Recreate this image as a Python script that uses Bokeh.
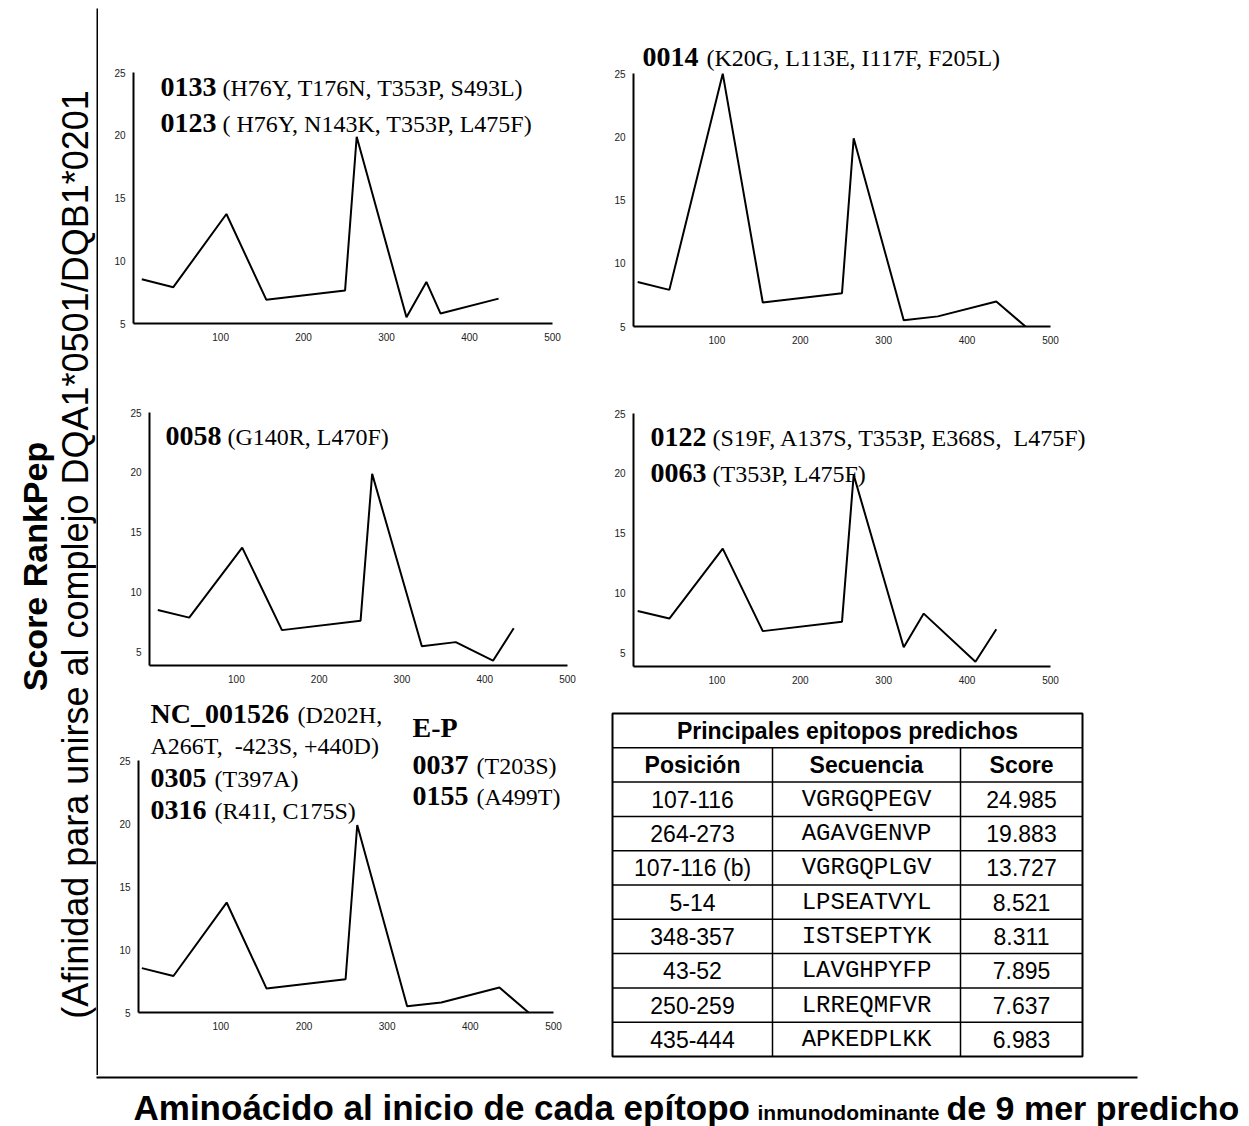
import math
from bokeh.plotting import figure
from bokeh.models import Range1d, FixedTicker, Label
from bokeh.layouts import row, column
from bokeh.embed import file_html
from bokeh.resources import INLINE
from bokeh.core.properties import value

# ---------------- data ----------------
x_ticks = [100, 200, 300, 400, 500]
y_ticks = [5, 10, 15, 20, 25]

pos_0133 = [5, 43, 107, 155, 250, 264, 324, 348, 365, 435]
score_0133 = [8.521, 7.895, 13.727, 6.9, 7.637, 19.883, 5.5, 8.311, 5.8, 6.983]

pos_0014 = [5, 43, 107, 155, 250, 264, 324, 365, 435, 470]
score_0014 = [8.521, 7.895, 24.985, 6.9, 7.637, 19.883, 5.5, 5.8, 6.983, 5.0]

pos_0058 = [5, 43, 107, 155, 250, 264, 324, 365, 410, 435]
score_0058 = [8.521, 7.895, 13.727, 6.85, 7.637, 19.883, 5.5, 5.85, 4.3, 7.0]

pos_0122 = [5, 43, 107, 155, 250, 264, 324, 348, 410, 435]
score_0122 = [8.521, 7.895, 13.727, 6.85, 7.637, 19.883, 5.5, 8.311, 4.3, 7.0]

pos_nc = [5, 43, 107, 155, 250, 264, 324, 365, 435, 470]
score_nc = [8.521, 7.895, 13.727, 6.9, 7.637, 19.883, 5.5, 5.8, 6.983, 5.0]

table_title = "Principales epitopos predichos"
table_headers = ["Posición", "Secuencia", "Score"]
table_positions = ["107-116", "264-273", "107-116 (b)", "5-14", "348-357", "43-52", "250-259", "435-444"]
table_sequences = ["VGRGQPEGV", "AGAVGENVP", "VGRGQPLGV", "LPSEATVYL", "ISTSEPTYK", "LAVGHPYFP", "LRREQMFVR", "APKEDPLKK"]
table_scores = ["24.985", "19.883", "13.727", "8.521", "8.311", "7.895", "7.637", "6.983"]

y_title_1 = "Score RankPep"
y_title_2 = "(Afinidad para unirse al complejo DQA1*0501/DQB1*0201"
x_title_parts = ["Aminoácido al inicio de cada epítopo", "inmunodominante", "de 9 mer predicho"]

SERIF = "Liberation Serif"
SANS = "Liberation Sans"
MONO = "Liberation Mono"
X_MAX, Y_MAX = 500, 25


def base_fig(w, h, xr, yr, left, right, top, bottom, axes=True):
    kw = {}
    if not axes:
        kw = dict(x_axis_type=None, y_axis_type=None)
    p = figure(width=w, height=h, x_range=Range1d(*xr), y_range=Range1d(*yr),
               toolbar_location=None, output_backend="svg", title=None,
               min_border_left=left, min_border_right=right,
               min_border_top=top, min_border_bottom=bottom, **kw)
    p.frame_align = False
    p.outline_line_color = None
    p.background_fill_color = "white"
    p.border_fill_color = "white"
    p.grid.visible = False
    return p


def panel(ox, oy, w, h, ax_left, ax_bottom, x_start, px_500, y_start, py_25, xs, ys):
    """Panel whose frame fills the figure to the top and right; axes drawn only over the data span."""
    sx = (px_500 - ax_left) / (X_MAX - x_start)
    sy = (ax_bottom - py_25) / (Y_MAX - y_start)
    x_end = x_start + (ox + w - ax_left) / sx
    y_end = y_start + (ax_bottom - oy) / sy
    p = base_fig(w, h, (x_start, x_end), (y_start, y_end), ax_left - ox, 0, 0, oy + h - ax_bottom)
    p.xaxis.ticker = FixedTicker(ticks=x_ticks)
    p.yaxis.ticker = FixedTicker(ticks=y_ticks)
    p.xaxis.bounds = (x_start, X_MAX)
    p.yaxis.bounds = (y_start, Y_MAX)
    for ax in (p.xaxis[0], p.yaxis[0]):
        ax.axis_line_width = 2
        ax.axis_line_color = "black"
        ax.major_tick_line_color = None
        ax.minor_tick_line_color = None
        ax.major_tick_out = 0
        ax.major_tick_in = 0
        ax.minor_tick_out = 0
        ax.minor_tick_in = 0
        ax.major_label_text_font = SANS
        ax.major_label_text_font_size = "10px"
        ax.major_label_text_color = "#222222"
    p.xaxis.major_label_standoff = 9
    p.yaxis.major_label_standoff = 8
    p.line(xs, ys, line_color="black", line_width=2)
    p._geo = (ax_left, oy)
    return p


def put(p, sx, sy, text, bold, size=None, font=SERIF):
    """Annotation text at page pixel (sx, sy), expressed as an offset from the frame's top-left corner."""
    fl_, ft_ = p._geo
    if size is None:
        size = BOLD if bold else REG
    p.add_layout(Label(x=p.x_range.start, y=p.y_range.end,
                       x_offset=sx - fl_, y_offset=ft_ - sy,
                       text=text, text_font=font, text_font_size=f"{size}px",
                       text_font_style="bold" if bold else "normal",
                       text_baseline="middle", text_align="left", text_color="black"))


BOLD, REG = 28, 24

# -------- panel 1 : 0133 / 0123 --------
f1 = panel(98, 0, 492, 370, 133, 323, -5, 552, 5, 72, pos_0133, score_0133)
put(f1, 160, 86, "0133", True)
put(f1, 222, 87, "(H76Y, T176N, T353P, S493L)", False)
put(f1, 160, 122, "0123", True)
put(f1, 222, 123, "( H76Y, N143K, T353P, L475F)", False)

# -------- panel 2 : 0014 --------
f2 = panel(590, 0, 659, 370, 633, 326, 0, 1050, 5, 73, pos_0014, score_0014)
put(f2, 642, 56, "0014", True)
put(f2, 706, 57, "(K20G, L113E, I117F, F205L)", False)

# -------- panel 3 : 0058 --------
f3 = panel(98, 370, 492, 318, 149, 665, -5, 567, 3.9, 412, pos_0058, score_0058)
put(f3, 165, 435, "0058", True)
put(f3, 227, 436, "(G140R, L470F)", False)

# -------- panel 4 : 0122 / 0063 --------
f4 = panel(590, 370, 659, 318, 633, 666, 0, 1050, 3.9, 413, pos_0122, score_0122)
put(f4, 650, 436, "0122", True)
put(f4, 712, 437, "(S19F, A137S, T353P, E368S,\u00a0 L475F)", False)
put(f4, 650, 472, "0063", True)
put(f4, 712, 473, "(T353P, L475F)", False)

# -------- panel 5 : NC_001526 ... --------
f5 = panel(98, 688, 497, 387, 138, 1012, 1, 553, 5, 760, pos_nc, score_nc)
put(f5, 150, 713, "NC_001526", True)
put(f5, 297, 714, "(D202H,", False)
put(f5, 150, 745, "A266T,\u00a0 -423S, +440D)", False)
put(f5, 150, 777, "0305", True)
put(f5, 214, 778, "(T397A)", False)
put(f5, 150, 809, "0316", True)
put(f5, 214, 810, "(R41I, C175S)", False)
put(f5, 412, 727, "E-P", True)
put(f5, 412, 764, "0037", True)
put(f5, 476, 765, "(T203S)", False)
put(f5, 412, 795, "0155", True)
put(f5, 476, 796, "(A499T)", False)

# -------- table --------
TW = 470
col_edges = [160, 348]
col_centers = [80, 254, 409]
tb = base_fig(654, 387, (0, TW), (10, 0), 17, 167, 25, 19, axes=False)
tb.outline_line_color = "black"
tb.outline_line_width = 2
hl = list(range(1, 10))
tb.segment(x0=[0] * len(hl), y0=hl, x1=[TW] * len(hl), y1=hl, line_color="black", line_width=1.5)
tb.segment(x0=col_edges, y0=[1, 1], x1=col_edges, y1=[10, 10], line_color="black", line_width=1.5)
tb.text(x=[TW / 2], y=[0.5], text=[table_title], text_align="center", text_baseline="middle",
        text_font=value(SANS), text_font_style="bold", text_font_size="23px")
tb.text(x=col_centers, y=[1.5] * 3, text=table_headers, text_align="center", text_baseline="middle",
        text_font=value(SANS), text_font_style="bold", text_font_size="23px")
row_y = [2.5 + i for i in range(len(table_positions))]
tb.text(x=[col_centers[0]] * len(row_y), y=row_y, text=table_positions, text_align="center",
        text_baseline="middle", text_font=value(SANS), text_font_size="23px")
tb.text(x=[col_centers[1]] * len(row_y), y=row_y, text=table_sequences, text_align="center",
        text_baseline="middle", text_font=value(MONO), text_font_size="24px")
tb.text(x=[col_centers[2]] * len(row_y), y=row_y, text=table_scores, text_align="center",
        text_baseline="middle", text_font=value(SANS), text_font_size="23px")

# -------- left strip: y title + vertical frame line --------
fl = base_fig(98, 1075, (0, 98), (1075, 0), 0, 0, 0, 0, axes=False)
fl.segment(x0=[97], y0=[8], x1=[97], y1=[1075], line_color="black", line_width=2)
fl.add_layout(Label(x=34, y=566, text=y_title_1, angle=math.pi / 2, text_align="center",
                    text_baseline="middle", text_font=SANS, text_font_style="bold",
                    text_font_size="34px", text_color="black"))
fl.add_layout(Label(x=75, y=554, text=y_title_2, angle=math.pi / 2, text_align="center",
                    text_baseline="middle", text_font=SANS, text_font_size="36px",
                    text_color="black"))

# -------- bottom strip: x title + horizontal frame line --------
fb = base_fig(1249, 51, (0, 1249), (51, 0), 0, 0, 0, 0, axes=False)
fb.segment(x0=[96], y0=[2], x1=[1137], y1=[2], line_color="black", line_width=2)
fb.add_layout(Label(x=133, y=32, text=x_title_parts[0], text_baseline="middle",
                    text_font=SANS, text_font_style="bold", text_font_size="35px", text_color="black"))
fb.add_layout(Label(x=757, y=37, text=x_title_parts[1], text_baseline="middle",
                    text_font=SANS, text_font_style="bold", text_font_size="21px", text_color="black"))
fb.add_layout(Label(x=946, y=32, text=x_title_parts[2], text_baseline="middle",
                    text_font=SANS, text_font_style="bold", text_font_size="34px", text_color="black"))

main = column(row(f1, f2, spacing=0), row(f3, f4, spacing=0), row(f5, tb, spacing=0), spacing=0)
root = column(row(fl, main, spacing=0), fb, spacing=0)

open("out.html", "w").write(file_html(root, INLINE))
